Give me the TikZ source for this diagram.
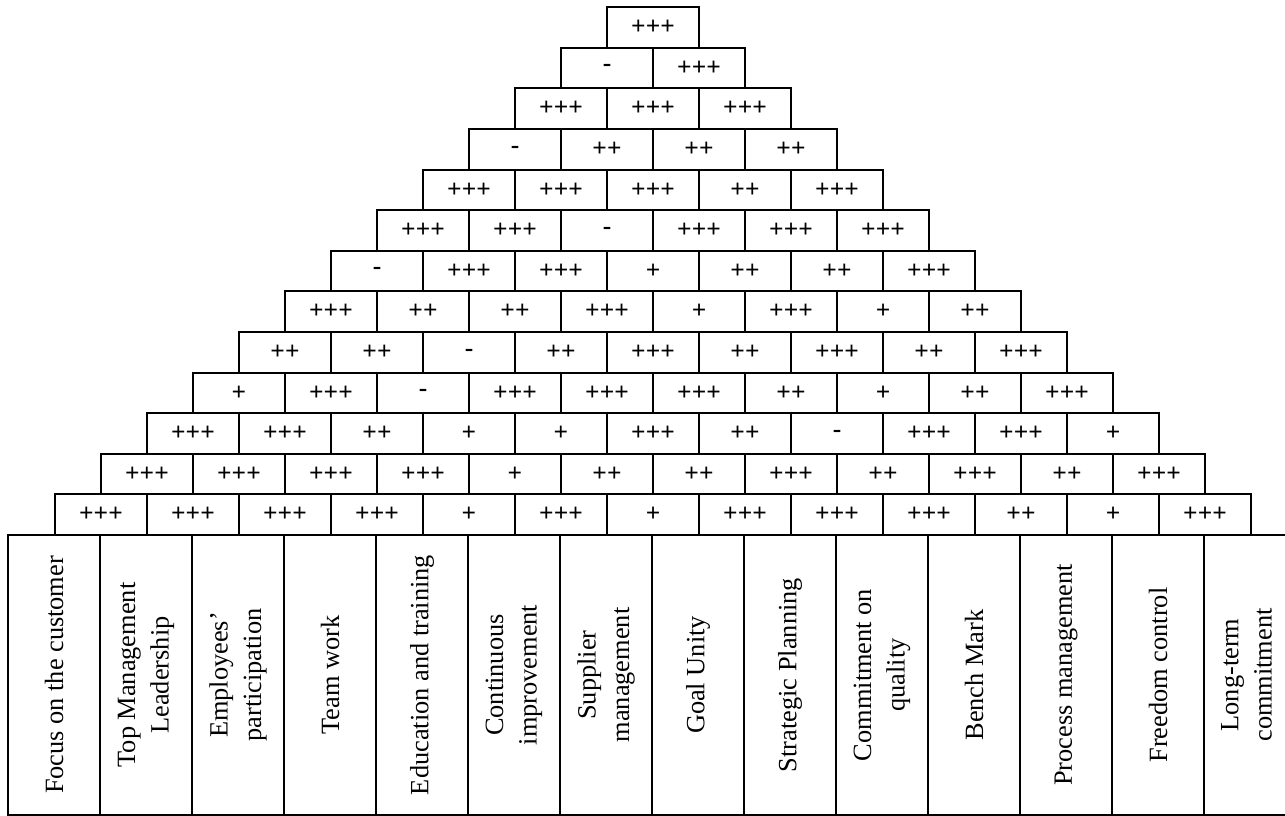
\documentclass[tikz,border=0pt]{standalone}
\usepackage{fontspec}
\setmainfont{Liberation Serif}
\usepackage{tikz}

\begin{document}
\begin{tikzpicture}
	\useasboundingbox (0,0) rectangle (25.70,-16.32);
	\tikzstyle{cell} = [draw, line width=1.1pt, rectangle, minimum width=1.84cm, minimum height=0.812cm, inner sep=0pt, font=\fontsize{14.5}{16}\selectfont\bfseries]
	\tikzstyle{factor} = [draw, line width=1.1pt, rectangle, rotate=90, minimum width=5.6cm, minimum height=1.84cm, inner sep=0pt, align=center, font=\fontsize{15}{19}\selectfont]
	% roof, from the top row down
	\node[cell] (p1-14) at (13.06, -0.55) {+++};
	\node[cell] (p1-13) at (12.14, -1.36) {-};
	\node[cell] (p2-14) at (13.98, -1.36) {+++};
	\node[cell] (p1-12) at (11.22, -2.17) {+++};
	\node[cell] (p2-13) at (13.06, -2.17) {+++};
	\node[cell] (p3-14) at (14.90, -2.17) {+++};
	\node[cell] (p1-11) at (10.30, -2.99) {-};
	\node[cell] (p2-12) at (12.14, -2.99) {++};
	\node[cell] (p3-13) at (13.98, -2.99) {++};
	\node[cell] (p4-14) at (15.82, -2.99) {++};
	\node[cell] (p1-10) at (9.38, -3.80) {+++};
	\node[cell] (p2-11) at (11.22, -3.80) {+++};
	\node[cell] (p3-12) at (13.06, -3.80) {+++};
	\node[cell] (p4-13) at (14.90, -3.80) {++};
	\node[cell] (p5-14) at (16.74, -3.80) {+++};
	\node[cell] (p1-9) at (8.46, -4.61) {+++};
	\node[cell] (p2-10) at (10.30, -4.61) {+++};
	\node[cell] (p3-11) at (12.14, -4.61) {-};
	\node[cell] (p4-12) at (13.98, -4.61) {+++};
	\node[cell] (p5-13) at (15.82, -4.61) {+++};
	\node[cell] (p6-14) at (17.66, -4.61) {+++};
	\node[cell] (p1-8) at (7.54, -5.42) {-};
	\node[cell] (p2-9) at (9.38, -5.42) {+++};
	\node[cell] (p3-10) at (11.22, -5.42) {+++};
	\node[cell] (p4-11) at (13.06, -5.42) {+};
	\node[cell] (p5-12) at (14.90, -5.42) {++};
	\node[cell] (p6-13) at (16.74, -5.42) {++};
	\node[cell] (p7-14) at (18.58, -5.42) {+++};
	\node[cell] (p1-7) at (6.62, -6.23) {+++};
	\node[cell] (p2-8) at (8.46, -6.23) {++};
	\node[cell] (p3-9) at (10.30, -6.23) {++};
	\node[cell] (p4-10) at (12.14, -6.23) {+++};
	\node[cell] (p5-11) at (13.98, -6.23) {+};
	\node[cell] (p6-12) at (15.82, -6.23) {+++};
	\node[cell] (p7-13) at (17.66, -6.23) {+};
	\node[cell] (p8-14) at (19.50, -6.23) {++};
	\node[cell] (p1-6) at (5.70, -7.05) {++};
	\node[cell] (p2-7) at (7.54, -7.05) {++};
	\node[cell] (p3-8) at (9.38, -7.05) {-};
	\node[cell] (p4-9) at (11.22, -7.05) {++};
	\node[cell] (p5-10) at (13.06, -7.05) {+++};
	\node[cell] (p6-11) at (14.90, -7.05) {++};
	\node[cell] (p7-12) at (16.74, -7.05) {+++};
	\node[cell] (p8-13) at (18.58, -7.05) {++};
	\node[cell] (p9-14) at (20.42, -7.05) {+++};
	\node[cell] (p1-5) at (4.78, -7.86) {+};
	\node[cell] (p2-6) at (6.62, -7.86) {+++};
	\node[cell] (p3-7) at (8.46, -7.86) {-};
	\node[cell] (p4-8) at (10.30, -7.86) {+++};
	\node[cell] (p5-9) at (12.14, -7.86) {+++};
	\node[cell] (p6-10) at (13.98, -7.86) {+++};
	\node[cell] (p7-11) at (15.82, -7.86) {++};
	\node[cell] (p8-12) at (17.66, -7.86) {+};
	\node[cell] (p9-13) at (19.50, -7.86) {++};
	\node[cell] (p10-14) at (21.34, -7.86) {+++};
	\node[cell] (p1-4) at (3.86, -8.67) {+++};
	\node[cell] (p2-5) at (5.70, -8.67) {+++};
	\node[cell] (p3-6) at (7.54, -8.67) {++};
	\node[cell] (p4-7) at (9.38, -8.67) {+};
	\node[cell] (p5-8) at (11.22, -8.67) {+};
	\node[cell] (p6-9) at (13.06, -8.67) {+++};
	\node[cell] (p7-10) at (14.90, -8.67) {++};
	\node[cell] (p8-11) at (16.74, -8.67) {-};
	\node[cell] (p9-12) at (18.58, -8.67) {+++};
	\node[cell] (p10-13) at (20.42, -8.67) {+++};
	\node[cell] (p11-14) at (22.26, -8.67) {+};
	\node[cell] (p1-3) at (2.94, -9.48) {+++};
	\node[cell] (p2-4) at (4.78, -9.48) {+++};
	\node[cell] (p3-5) at (6.62, -9.48) {+++};
	\node[cell] (p4-6) at (8.46, -9.48) {+++};
	\node[cell] (p5-7) at (10.30, -9.48) {+};
	\node[cell] (p6-8) at (12.14, -9.48) {++};
	\node[cell] (p7-9) at (13.98, -9.48) {++};
	\node[cell] (p8-10) at (15.82, -9.48) {+++};
	\node[cell] (p9-11) at (17.66, -9.48) {++};
	\node[cell] (p10-12) at (19.50, -9.48) {+++};
	\node[cell] (p11-13) at (21.34, -9.48) {++};
	\node[cell] (p12-14) at (23.18, -9.48) {+++};
	\node[cell] (p1-2) at (2.02, -10.29) {+++};
	\node[cell] (p2-3) at (3.86, -10.29) {+++};
	\node[cell] (p3-4) at (5.70, -10.29) {+++};
	\node[cell] (p4-5) at (7.54, -10.29) {+++};
	\node[cell] (p5-6) at (9.38, -10.29) {+};
	\node[cell] (p6-7) at (11.22, -10.29) {+++};
	\node[cell] (p7-8) at (13.06, -10.29) {+};
	\node[cell] (p8-9) at (14.90, -10.29) {+++};
	\node[cell] (p9-10) at (16.74, -10.29) {+++};
	\node[cell] (p10-11) at (18.58, -10.29) {+++};
	\node[cell] (p11-12) at (20.42, -10.29) {++};
	\node[cell] (p12-13) at (22.26, -10.29) {+};
	\node[cell] (p13-14) at (24.10, -10.29) {+++};
	% the factors
	\node[factor] (f1) at (1.08, -13.50) {Focus on the customer};
	\node[factor] (f2) at (2.92, -13.50) {Top Management\\Leadership};
	\node[factor] (f3) at (4.76, -13.50) {Employees'\\participation};
	\node[factor] (f4) at (6.60, -13.50) {Team work};
	\node[factor] (f5) at (8.44, -13.50) {Education and training};
	\node[factor] (f6) at (10.28, -13.50) {Continuous\\improvement};
	\node[factor] (f7) at (12.12, -13.50) {Supplier\\management};
	\node[factor] (f8) at (13.96, -13.50) {Goal Unity};
	\node[factor] (f9) at (15.80, -13.50) {Strategic Planning};
	\node[factor] (f10) at (17.64, -13.50) {Commitment on\\quality};
	\node[factor] (f11) at (19.48, -13.50) {Bench Mark};
	\node[factor] (f12) at (21.32, -13.50) {Process management};
	\node[factor] (f13) at (23.16, -13.50) {Freedom control};
	\node[factor, minimum height=1.70cm] (f14) at (24.93, -13.50) {Long-term\\commitment};
\end{tikzpicture}
\end{document}
